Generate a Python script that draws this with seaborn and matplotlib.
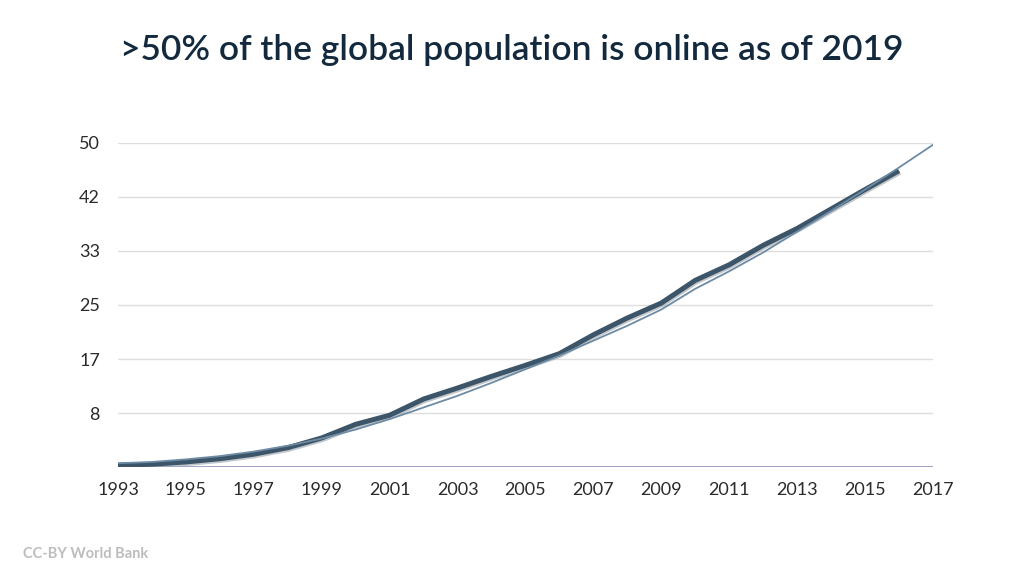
import matplotlib
matplotlib.use("Agg")
import matplotlib.pyplot as plt
import matplotlib.patheffects as pe
import pandas as pd
import seaborn as sns

# Internet users, % of world population (World Bank)
years = list(range(1993, 2017))
usage = [0.3, 0.45, 0.8, 1.3, 2.0, 3.0, 4.5, 6.6, 8.0, 10.5, 12.2, 14.0,
         15.7, 17.5, 20.4, 23.0, 25.3, 28.8, 31.2, 34.2, 36.8, 39.8, 42.8, 45.7]

# thin trend line
trend_years = list(range(1993, 2018))
trend = [0.6, 0.8, 1.2, 1.7, 2.4, 3.3, 4.4, 5.8, 7.4, 9.2, 11.0, 13.0, 15.1,
         17.2, 19.5, 21.8, 24.3, 27.5, 30.2, 33.1, 36.3, 39.5, 42.8, 46.2, 49.7]

ytick_values = [50 / 6 * i for i in range(1, 7)]
ytick_labels = ["8", "17", "25", "33", "42", "50"]
xtick_values = list(range(1993, 2018, 2))

df = pd.DataFrame({"year": years, "usage": usage})
df_trend = pd.DataFrame({"year": trend_years, "trend": trend})

sns.set_theme(style="white")
plt.rcParams["font.family"] = ["Lato", "DejaVu Sans"]

fig = plt.figure(figsize=(10.24, 5.76), dpi=100)
ax = fig.add_axes([0.1152, 0.189, 0.7959, 0.563])

ax.axhline(0, color="#9d9bc6", lw=1.3, zorder=1)
for v in ytick_values:
    ax.axhline(v, color="#dedede", lw=1.0, zorder=0)

sns.lineplot(data=df, x="year", y="usage", ax=ax, color="#3d5569", lw=3.6,
             solid_capstyle="butt", solid_joinstyle="round", zorder=3,
             path_effects=[pe.SimpleLineShadow(offset=(0.6, -1.2), shadow_color="#9aa3ab", alpha=0.6),
                           pe.Normal()])
sns.lineplot(data=df_trend, x="year", y="trend", ax=ax, color="#6d8ba4", lw=1.3, zorder=4)

ax.set_xlim(1993, 2017)
ax.set_ylim(0, 50)
ax.set_yticks(ytick_values)
ax.set_yticklabels(ytick_labels)
ax.set_xticks(xtick_values)
ax.set_xticklabels([str(y) for y in xtick_values])
ax.tick_params(axis="both", length=0, labelsize=13, colors="#2b2b2b")
ax.tick_params(axis="y", pad=13)
ax.tick_params(axis="x", pad=11)
ax.set_xlabel("")
ax.set_ylabel("")
for s in ax.spines.values():
    s.set_visible(False)

fig.text(0.5, 0.913, ">50% of the global population is online as of 2019",
         ha="center", va="center", fontsize=25.5, color="#132a3e", fontweight="semibold")
fig.text(0.022, 0.038, "CC-BY World Bank", ha="left", va="center",
         fontsize=10.5, color="#bdbdbd", fontweight="bold")

fig.savefig("out.png", dpi=100)
